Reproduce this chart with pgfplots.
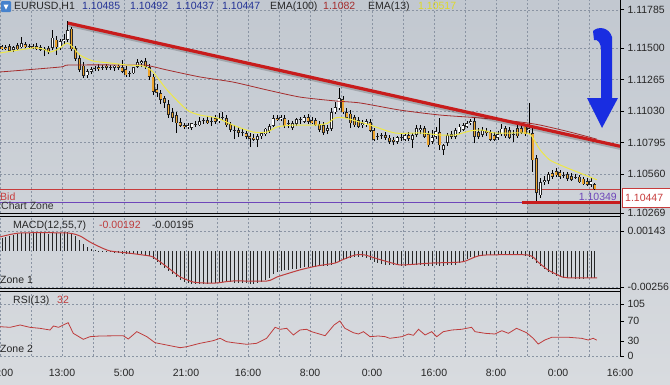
\documentclass[border=0pt]{standalone}
\usepackage{fontspec}
\setmainfont{Liberation Sans}
\usepackage{pgfplots}
\pgfplotsset{compat=1.18}
\usepackage{pgfplotstable}

\definecolor{bgtop}{RGB}{194,200,208}
\definecolor{bgbot}{RGB}{216,219,223}
\definecolor{gridc}{RGB}{138,148,163}
\definecolor{bearc}{RGB}{238,165,45}
\definecolor{emaY}{RGB}{238,232,70}
\definecolor{emaR}{RGB}{165,45,45}
\definecolor{trendR}{RGB}{200,28,28}
\definecolor{bidR}{RGB}{200,60,60}
\definecolor{zoneP}{RGB}{110,70,185}
\definecolor{arrowB}{RGB}{25,45,225}
\definecolor{hdrBlue}{RGB}{35,50,150}
\definecolor{sigR}{RGB}{190,60,60}
\definecolor{hdrYel}{RGB}{222,218,40}

\newcommand{\lbl}{\fontsize{10.5}{12}\selectfont}

\pgfplotsset{
  panel/.style={
    anchor=north west, scale only axis, width=620pt, xmin=0, xmax=160,
    axis line style={draw=none},
    xtick={0,16,...,160}, minor xtick={8,24,...,152},
    xmajorgrids, xminorgrids,
    xtick style={draw=none}, minor tick length=0pt,
    ytick pos=right, yticklabel pos=right, tick align=outside,
    major tick length=4pt,
    ytick style={draw=black, line width=0.6pt},
    grid style={gridc, dash pattern=on 2pt off 2pt, line width=0.5pt},
    minor grid style={gridc, dash pattern=on 2pt off 2pt, line width=0.5pt},
    scaled y ticks=false,
    ticklabel style={font=\lbl, text=black!85},
    /pgf/number format/assume math mode=true,
  },
  cbar/.style 2 args={draw=none, no markers, forget plot,
    error bars/.cd, y dir=plus, y explicit, error mark=none,
    error bar style={draw=#1, line width=#2, solid}},
}

% x o h l c
\pgfplotstableread{
x o h l c
0.5 1.11515 1.11522 1.11485 1.11492
1.5 1.11507 1.11522 1.11485 1.11492
2.5 1.11515 1.11530 1.11470 1.11478
3.5 1.11485 1.11515 1.11470 1.11507
4.5 1.11522 1.11537 1.11485 1.11492
5.5 1.11507 1.11582 1.11500 1.11537
6.5 1.11530 1.11545 1.11500 1.11507
7.5 1.11515 1.11530 1.11492 1.11507
8.5 1.11515 1.11530 1.11492 1.11500
9.5 1.11515 1.11537 1.11485 1.11492
10.5 1.11507 1.11522 1.11478 1.11485
11.5 1.11492 1.11507 1.11440 1.11485
12.5 1.11500 1.11515 1.11455 1.11470
13.5 1.11500 1.11634 1.11485 1.11575
14.5 1.11560 1.11589 1.11448 1.11507
15.5 1.11507 1.11567 1.11485 1.11552
16.5 1.11552 1.11604 1.11530 1.11567
17.5 1.11560 1.11701 1.11545 1.11634
18.5 1.11642 1.11657 1.11478 1.11492
19.5 1.11500 1.11515 1.11403 1.11418
20.5 1.11425 1.11448 1.11321 1.11336
21.5 1.11366 1.11395 1.11276 1.11291
22.5 1.11298 1.11343 1.11276 1.11328
23.5 1.11321 1.11358 1.11306 1.11343
24.5 1.11343 1.11366 1.11328 1.11351
25.5 1.11358 1.11381 1.11328 1.11343
26.5 1.11351 1.11373 1.11336 1.11358
27.5 1.11366 1.11381 1.11336 1.11351
28.5 1.11358 1.11373 1.11336 1.11351
29.5 1.11351 1.11373 1.11328 1.11366
30.5 1.11366 1.11381 1.11336 1.11351
31.5 1.11358 1.11410 1.11313 1.11321
32.5 1.11343 1.11366 1.11284 1.11298
33.5 1.11306 1.11328 1.11284 1.11313
34.5 1.11313 1.11336 1.11306 1.11358
35.5 1.11358 1.11418 1.11351 1.11395
36.5 1.11388 1.11410 1.11358 1.11403
37.5 1.11403 1.11425 1.11343 1.11358
38.5 1.11358 1.11381 1.11261 1.11284
39.5 1.11284 1.11306 1.11149 1.11172
40.5 1.11194 1.11231 1.11134 1.11164
41.5 1.11164 1.11187 1.11082 1.11112
42.5 1.11127 1.11142 1.11052 1.11090
43.5 1.11082 1.11112 1.10978 1.11000
44.5 1.11022 1.11052 1.10948 1.10978
45.5 1.11000 1.11022 1.10866 1.10940
46.5 1.10948 1.10978 1.10911 1.10918
47.5 1.10925 1.10940 1.10896 1.10911
48.5 1.10911 1.10940 1.10896 1.10925
49.5 1.10903 1.10940 1.10888 1.10940
50.5 1.10933 1.10955 1.10911 1.10925
51.5 1.10925 1.10985 1.10918 1.10955
52.5 1.10955 1.10978 1.10933 1.10963
53.5 1.10963 1.10993 1.10933 1.10940
54.5 1.10955 1.10985 1.10918 1.10948
55.5 1.10978 1.11000 1.10933 1.10948
56.5 1.10955 1.11015 1.10940 1.10978
57.5 1.10978 1.11022 1.10963 1.10985
58.5 1.10978 1.11000 1.10911 1.10925
59.5 1.10933 1.10948 1.10873 1.10888
60.5 1.10888 1.10925 1.10821 1.10881
61.5 1.10888 1.10911 1.10836 1.10866
62.5 1.10866 1.10903 1.10843 1.10873
63.5 1.10866 1.10881 1.10821 1.10836
64.5 1.10843 1.10866 1.10761 1.10821
65.5 1.10829 1.10858 1.10806 1.10814
66.5 1.10814 1.10858 1.10761 1.10843
67.5 1.10843 1.10873 1.10821 1.10866
68.5 1.10858 1.10903 1.10843 1.10896
69.5 1.10881 1.10933 1.10866 1.10918
70.5 1.10918 1.11000 1.10911 1.10978
71.5 1.10978 1.11000 1.10955 1.10963
72.5 1.10970 1.11000 1.10955 1.10985
73.5 1.10978 1.11000 1.10903 1.10918
74.5 1.10933 1.10963 1.10903 1.10940
75.5 1.10903 1.10955 1.10888 1.10940
76.5 1.10933 1.10978 1.10918 1.10970
77.5 1.10963 1.10985 1.10933 1.10970
78.5 1.10948 1.11000 1.10940 1.10985
79.5 1.10985 1.11008 1.10933 1.10948
80.5 1.10963 1.10985 1.10933 1.10940
81.5 1.10963 1.10978 1.10918 1.10925
82.5 1.10933 1.10955 1.10873 1.10888
83.5 1.10925 1.10948 1.10851 1.10866
84.5 1.10881 1.10925 1.10858 1.10903
85.5 1.10896 1.11052 1.10881 1.11022
86.5 1.11022 1.11097 1.11008 1.11060
87.5 1.11052 1.11202 1.11037 1.11127
88.5 1.11119 1.11142 1.11008 1.11022
89.5 1.11022 1.11052 1.10970 1.10978
90.5 1.11008 1.11037 1.10903 1.10940
91.5 1.10985 1.11000 1.10911 1.10925
92.5 1.10963 1.10985 1.10903 1.10911
93.5 1.10925 1.10963 1.10903 1.10940
94.5 1.10925 1.10970 1.10911 1.10955
95.5 1.10948 1.10970 1.10873 1.10881
96.5 1.10888 1.10903 1.10806 1.10814
97.5 1.10836 1.10866 1.10814 1.10843
98.5 1.10843 1.10866 1.10821 1.10851
99.5 1.10851 1.10873 1.10814 1.10829
100.5 1.10829 1.10851 1.10784 1.10799
101.5 1.10814 1.10836 1.10776 1.10799
102.5 1.10799 1.10843 1.10784 1.10836
103.5 1.10829 1.10858 1.10806 1.10836
104.5 1.10814 1.10866 1.10806 1.10851
105.5 1.10851 1.10873 1.10806 1.10821
106.5 1.10814 1.10866 1.10754 1.10851
107.5 1.10851 1.10925 1.10836 1.10903
108.5 1.10888 1.10925 1.10858 1.10903
109.5 1.10903 1.10918 1.10829 1.10836
110.5 1.10858 1.10881 1.10761 1.10776
111.5 1.10799 1.10888 1.10784 1.10836
112.5 1.10836 1.10911 1.10821 1.10881
113.5 1.10873 1.10978 1.10739 1.10776
114.5 1.10739 1.10784 1.10702 1.10776
115.5 1.10791 1.10866 1.10769 1.10851
116.5 1.10858 1.10881 1.10821 1.10836
117.5 1.10836 1.10903 1.10821 1.10888
118.5 1.10873 1.10933 1.10858 1.10911
119.5 1.10888 1.10940 1.10881 1.10925
120.5 1.10911 1.10955 1.10903 1.10940
121.5 1.10940 1.10970 1.10925 1.10955
122.5 1.10955 1.10978 1.10791 1.10836
123.5 1.10873 1.10903 1.10821 1.10836
124.5 1.10851 1.10911 1.10836 1.10888
125.5 1.10881 1.10903 1.10843 1.10866
126.5 1.10873 1.10888 1.10806 1.10814
127.5 1.10851 1.10873 1.10806 1.10814
128.5 1.10829 1.10881 1.10814 1.10858
129.5 1.10858 1.10933 1.10843 1.10896
130.5 1.10903 1.10918 1.10829 1.10843
131.5 1.10888 1.10911 1.10821 1.10829
132.5 1.10851 1.10888 1.10799 1.10858
133.5 1.10903 1.10925 1.10829 1.10843
134.5 1.10903 1.10918 1.10858 1.10866
135.5 1.10911 1.10933 1.10843 1.10858
136.5 1.10888 1.11090 1.10858 1.10903
137.5 1.10866 1.10903 1.10575 1.10664
138.5 1.10679 1.10702 1.10349 1.10418
139.5 1.10403 1.10530 1.10381 1.10500
140.5 1.10500 1.10545 1.10478 1.10515
141.5 1.10508 1.10575 1.10485 1.10560
142.5 1.10567 1.10590 1.10523 1.10538
143.5 1.10582 1.10605 1.10538 1.10552
144.5 1.10575 1.10590 1.10523 1.10538
145.5 1.10552 1.10575 1.10530 1.10545
146.5 1.10560 1.10575 1.10508 1.10523
147.5 1.10545 1.10567 1.10508 1.10515
148.5 1.10538 1.10560 1.10523 1.10530
149.5 1.10538 1.10552 1.10493 1.10500
150.5 1.10523 1.10538 1.10478 1.10485
151.5 1.10508 1.10530 1.10470 1.10478
152.5 1.10478 1.10538 1.10463 1.10508
153.5 1.10485 1.10492 1.10437 1.10447
}\candles

\pgfplotstableread{
x m
0.5 0.00093
1.5 0.00100
2.5 0.00107
3.5 0.00114
4.5 0.00121
5.5 0.00128
6.5 0.00128
7.5 0.00128
8.5 0.00128
9.5 0.00128
10.5 0.00128
11.5 0.00125
12.5 0.00121
13.5 0.00125
14.5 0.00125
15.5 0.00128
16.5 0.00135
17.5 0.00135
18.5 0.00128
19.5 0.00107
20.5 0.00078
21.5 0.00050
22.5 0.00028
23.5 0.00014
24.5 0.00007
25.5 0.00002
26.5 -0.00002
27.5 -0.00007
28.5 -0.00007
29.5 -0.00014
30.5 -0.00014
31.5 -0.00021
32.5 -0.00021
33.5 -0.00021
34.5 -0.00021
35.5 -0.00021
36.5 -0.00021
37.5 -0.00029
38.5 -0.00036
39.5 -0.00057
40.5 -0.00078
41.5 -0.00100
42.5 -0.00121
43.5 -0.00143
44.5 -0.00164
45.5 -0.00185
46.5 -0.00207
47.5 -0.00221
48.5 -0.00228
49.5 -0.00235
50.5 -0.00235
51.5 -0.00235
52.5 -0.00235
53.5 -0.00235
54.5 -0.00228
55.5 -0.00228
56.5 -0.00228
57.5 -0.00221
58.5 -0.00221
59.5 -0.00221
60.5 -0.00228
61.5 -0.00228
62.5 -0.00228
63.5 -0.00228
64.5 -0.00235
65.5 -0.00235
66.5 -0.00228
67.5 -0.00221
68.5 -0.00207
69.5 -0.00192
70.5 -0.00164
71.5 -0.00150
72.5 -0.00143
73.5 -0.00135
74.5 -0.00135
75.5 -0.00128
76.5 -0.00128
77.5 -0.00121
78.5 -0.00114
79.5 -0.00114
80.5 -0.00114
81.5 -0.00114
82.5 -0.00107
83.5 -0.00107
84.5 -0.00107
85.5 -0.00100
86.5 -0.00086
87.5 -0.00071
88.5 -0.00064
89.5 -0.00057
90.5 -0.00050
91.5 -0.00043
92.5 -0.00043
93.5 -0.00043
94.5 -0.00050
95.5 -0.00064
96.5 -0.00078
97.5 -0.00086
98.5 -0.00093
99.5 -0.00100
100.5 -0.00100
101.5 -0.00100
102.5 -0.00100
103.5 -0.00107
104.5 -0.00107
105.5 -0.00100
106.5 -0.00100
107.5 -0.00100
108.5 -0.00100
109.5 -0.00107
110.5 -0.00107
111.5 -0.00107
112.5 -0.00100
113.5 -0.00107
114.5 -0.00107
115.5 -0.00100
116.5 -0.00100
117.5 -0.00100
118.5 -0.00086
119.5 -0.00071
120.5 -0.00057
121.5 -0.00043
122.5 -0.00043
123.5 -0.00036
124.5 -0.00036
125.5 -0.00029
126.5 -0.00029
127.5 -0.00029
128.5 -0.00029
129.5 -0.00029
130.5 -0.00029
131.5 -0.00029
132.5 -0.00029
133.5 -0.00029
134.5 -0.00029
135.5 -0.00036
136.5 -0.00043
137.5 -0.00057
138.5 -0.00086
139.5 -0.00107
140.5 -0.00128
141.5 -0.00150
142.5 -0.00164
143.5 -0.00178
144.5 -0.00185
145.5 -0.00192
146.5 -0.00192
147.5 -0.00192
148.5 -0.00200
149.5 -0.00200
150.5 -0.00200
151.5 -0.00195
152.5 -0.00195
153.5 -0.00195
}\macd

\begin{document}
\begin{tikzpicture}[x=1pt,y=1pt,font=\lbl]
\shade[top color=bgtop, bottom color=bgbot] (0,0) rectangle (670,-384);

% ---------------- main price panel
\begin{axis}[panel, at={(0pt,0pt)}, height=213pt,
  ymin=1.10269, ymax=1.11858, xticklabels={},
  ytick={1.10269,1.10560,1.10795,1.11030,1.11265,1.11500,1.11785},
  yticklabels={1.10269,1.10560,1.10795,1.11030,1.11265,1.11500,1.11785},
  ymajorgrids]
\fill[black, opacity=0.12] (axis cs:136,1.10269) rectangle (axis cs:160,1.10344);
\addplot[bidR, line width=0.7pt, no marks] coordinates {(0,1.10447) (160,1.10447)};
\addplot[zoneP, line width=0.8pt, no marks] coordinates {(0,1.10349) (160,1.10349)};
% wicks
\addplot[cbar={black}{0.7pt}]
  table[x=x, y=l, y error plus expr={\thisrow{h}-\thisrow{l}}] {\candles};
% body outlines
\addplot[cbar={black!85}{2.9pt}]
  table[x=x, y expr={min(\thisrow{o},\thisrow{c})}, y error plus expr={max(abs(\thisrow{c}-\thisrow{o}),0.00008)}] {\candles};
% bullish fill (zero length when bearish)
\addplot[cbar={white}{1.6pt}]
  table[x=x, y expr={\thisrow{o}+0.00004}, y error plus expr={max(\thisrow{c}-\thisrow{o}-0.00008,0)}] {\candles};
% bearish fill (zero length when bullish)
\addplot[cbar={bearc}{1.6pt}]
  table[x=x, y expr={\thisrow{c}+0.00004}, y error plus expr={max(\thisrow{o}-\thisrow{c}-0.00008,0)}] {\candles};
% EMA(100)
\addplot[emaR, line width=0.8pt, no marks, smooth, tension=0.4] coordinates {
(0,1.11321) (15.5,1.11358) (18,1.11373) (36.1,1.11373) (38.7,1.11366) (43.1,1.11336)
(51.6,1.11284) (60.1,1.11246) (68.9,1.11187) (77.4,1.11134) (86.5,1.11105) (92.9,1.11090)
(103.2,1.11037) (113.5,1.11000) (123.9,1.10978) (134.2,1.10948) (139.4,1.10925)
(147.1,1.10873) (154,1.10820)};
% EMA(13)
\addplot[emaY, line width=1pt, no marks, smooth, tension=0.4] coordinates {
(0,1.11463) (8.5,1.11500) (11.1,1.11492) (12.9,1.11470) (15,1.11492) (17.3,1.11537)
(18.8,1.11507) (20.6,1.11448) (24,1.11403) (28.4,1.11388) (32.8,1.11373) (36.9,1.11366)
(39.5,1.11321) (43.1,1.11187) (48.3,1.11037) (51.6,1.11000) (56,1.10978) (60.1,1.10925)
(65.3,1.10873) (68.9,1.10873) (71.5,1.10911) (75.6,1.10925) (81.8,1.10925) (84.6,1.10940)
(86.5,1.10978) (89,1.10978) (95.5,1.10925) (101.9,1.10866) (108.4,1.10866) (113.5,1.10851)
(117.4,1.10851) (121.3,1.10881) (124.4,1.10888) (127.7,1.10866) (135.5,1.10866)
(137,1.10851) (138.3,1.10791) (139.4,1.10739) (141.9,1.10664) (145.8,1.10612)
(149.7,1.10567) (154,1.10517)};
% trend lines (with a soft shadow)
\addplot[black, opacity=0.18, line width=3.2pt, no marks] coordinates {(17.7,1.11671) (160,1.10752)};
\addplot[trendR, line width=3.2pt, no marks] coordinates {(17.5,1.11686) (160,1.10767)};
\addplot[trendR, line width=3pt, no marks] coordinates {(134.7,1.10344) (160,1.10344)};
\end{axis}

% ---------------- MACD panel
\begin{axis}[panel, at={(0pt,-216pt)}, height=72pt,
  ymin=-0.00264, ymax=0.00249, xticklabels={},
  ytick={-0.00256,0.00143}, yticklabels={-0.00256,0.00143}, ymajorgrids]
\addplot[ycomb, draw=black!85, line width=0.8pt, mark=none] table[x=x, y=m] {\macd};
\addplot[sigR, line width=1pt, no marks, smooth, tension=0.4] coordinates {
(0,0.00100) (5.2,0.00128) (17.3,0.00128) (20.6,0.00107) (23.2,0.00064) (25.8,0.00028)
(28.4,0.00000) (32.8,-0.00014) (36.9,-0.00029) (39.5,-0.00043) (43.1,-0.00114)
(46.5,-0.00185) (49.8,-0.00221) (52.4,-0.00228) (56,-0.00228) (60.1,-0.00214)
(68.9,-0.00214) (71.5,-0.00185) (77.4,-0.00135) (81.8,-0.00107) (86.5,-0.00086)
(88.3,-0.00064) (91.6,-0.00029) (94.2,-0.00029) (97.5,-0.00057) (101.2,-0.00086)
(103.7,-0.00100) (111.5,-0.00086) (119.2,-0.00078) (122.6,-0.00043) (125.2,-0.00029)
(136.3,-0.00029) (138.8,-0.00078) (141.4,-0.00135) (145,-0.00185) (146.6,-0.00192)
(154.1,-0.00192)};
\end{axis}

% ---------------- RSI panel
\begin{axis}[panel, at={(0pt,-291pt)}, height=65pt,
  ymin=0, ymax=131.2,
  ytick={30,70}, yticklabels={30,70},
  extra y ticks={0,105}, extra y tick labels={0,105}, extra y tick style={grid=major},
  xticklabels={21:00,13:00,5:00,21:00,16:00,8:00,0:00,16:00,8:00,0:00,16:00},
  xticklabel style={anchor=base, yshift=-16pt}]
\addplot[sigR, line width=0.8pt, no marks] coordinates {
(0,59.2) (2.6,57.9) (5.2,62.6) (7.7,57.9) (10.3,55.9) (12.9,52.5) (13.8,60.6) (15.1,57.9)
(16.3,62.6) (17.6,67.2) (18.9,45.8) (21.5,33.7) (23.2,39.0) (25.8,40.4) (31.8,41.0)
(33.1,34.3) (35.3,49.1) (37.9,39.0) (40.0,26.9) (43.0,22.2) (46.5,16.8) (48.2,18.8)
(51.6,25.6) (55.0,30.9) (56.8,35.7) (58.5,28.9) (60.2,26.9) (63.7,23.6) (66.2,25.6)
(68.8,35.7) (71.0,57.9) (72.3,53.9) (74.0,55.9) (75.7,42.4) (77.4,52.5) (79.1,53.9)
(80.4,49.1) (83.9,41.0) (86.2,62.6) (87.7,70.7) (89.0,55.9) (91.2,47.0) (92.5,44.4)
(93.8,49.1) (95.5,39.0) (97.6,40.4) (99.4,39.0) (100.6,35.7) (103.7,39.0) (105.4,44.4)
(106.7,41.8) (108.0,53.9) (109.7,42.4) (111.4,49.1) (112.7,39.0) (114.4,49.1) (116.6,52.5)
(119.1,53.9) (121.7,57.9) (122.6,49.1) (125.2,45.8) (127.7,44.4) (129.5,51.1) (131.2,45.8)
(133.3,55.9) (135.9,47.0) (137.6,35.7) (138.9,24.2) (140.6,32.3) (142.4,37.8) (146.7,37.8)
(150.1,35.7) (151.8,32.3) (153.1,35.7) (154.0,32.0)};
\end{axis}

% borders
\draw[black, line width=0.9pt] (620,0) -- (620,-356);
\draw[black, line width=0.9pt] (0,-213) -- (620,-213);
\draw[black, line width=0.9pt] (0,-216) -- (620,-216);
\draw[black, line width=0.9pt] (0,-288) -- (620,-288);
\draw[black, line width=0.9pt] (0,-291) -- (620,-291);

% header
\fill[rounded corners=1pt, color={rgb,255:red,70;green,130;blue,205}] (1,-1) rectangle (11,-12);
\fill[white] (3.5,-4.5) -- (8.5,-4.5) -- (6,-9.5) -- cycle;
\node[anchor=base west, inner sep=0, text=black!85] at (14,-9.5) {EURUSD,H1};
\node[anchor=base west, inner sep=0, text=hdrBlue] at (82,-9.5) {1.10485};
\node[anchor=base west, inner sep=0, text=hdrBlue] at (130,-9.5) {1.10492};
\node[anchor=base west, inner sep=0, text=hdrBlue] at (176,-9.5) {1.10437};
\node[anchor=base west, inner sep=0, text=hdrBlue] at (222,-9.5) {1.10447};
\node[anchor=base west, inner sep=0, text=black!85] at (270,-9.5) {EMA(100)};
\node[anchor=base west, inner sep=0, text=emaR] at (323,-9.5) {1.1082};
\node[anchor=base west, inner sep=0, text=black!85] at (368,-9.5) {EMA(13)};
\node[anchor=base west, inner sep=0, text=hdrYel] at (418,-9.5) {1.10517};

% zone texts
\node[anchor=base west, inner sep=0, text=bidR] at (0,-200) {Bid};
\node[anchor=base west, inner sep=0, text=black!80] at (1,-209) {Chart Zone};
\node[anchor=base east, inner sep=0, text=zoneP] at (617,-200) {1.10349};
\draw[bidR, fill=white, line width=0.8pt] (622,-188) rectangle (675,-207);
\node[anchor=base west, inner sep=0, text=bidR] at (625,-201.5) {1.10447};

\node[anchor=base west, inner sep=0, text=black!85] at (13,-228) {MACD(12,55,7)};
\node[anchor=base west, inner sep=0, text=sigR] at (99,-228) {-0.00192};
\node[anchor=base west, inner sep=0, text=black!85] at (152,-228) {-0.00195};
\node[anchor=base west, inner sep=0, text=black!85] at (0,-283) {Zone 1};
\node[anchor=base west, inner sep=0, text=black!85] at (13,-303) {RSI(13)};
\node[anchor=base west, inner sep=0, text=sigR] at (57,-303) {32};
\node[anchor=base west, inner sep=0, text=black!85] at (0,-352) {Zone 2};

% blue arrow
\fill[arrowB] (593,-31) .. controls (598,-26) and (609,-27) .. (612,-37) -- (612,-98)
  -- (618,-98) -- (602,-128) -- (587,-98) -- (601,-98) -- (601,-50)
  .. controls (601,-43) and (598,-39) .. (594,-40) -- cycle;

\pgfresetboundingbox
\path (0,0) rectangle (670,-384);
\end{tikzpicture}
\end{document}
